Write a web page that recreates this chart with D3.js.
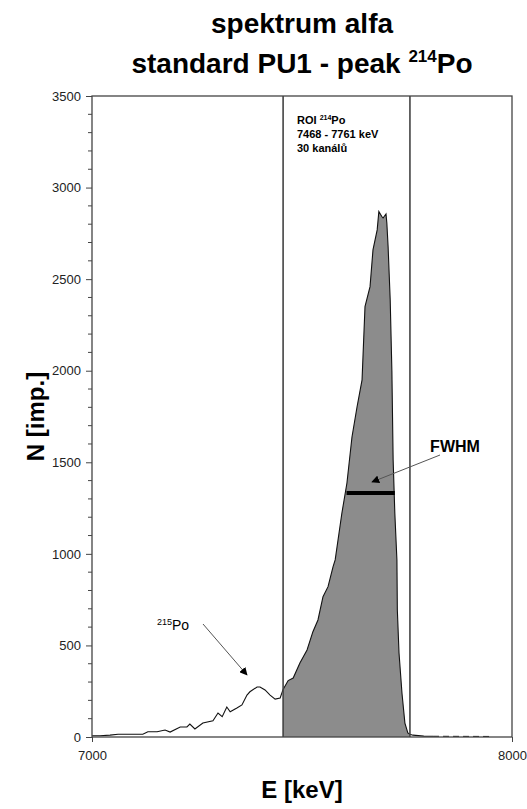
<!DOCTYPE html>
<html>
<head>
<meta charset="utf-8">
<script src="https://cdn.jsdelivr.net/npm/d3@7"></script>
<style>
  body { margin: 0; background: #fff; }
  text { font-family: Arial, "Liberation Sans", sans-serif; }
</style>
</head>
<body>
<div id="chart"></div>
<script>
// spectrum (keV, counts)
const energy = [7000, 7019, 7043, 7062, 7121, 7133, 7155, 7174, 7186, 7210, 7226, 7233, 7245, 7264,
  7288, 7300, 7310, 7321, 7329, 7345, 7357, 7369, 7376, 7393, 7400, 7412, 7424, 7436, 7448,
  7455, 7467, 7479, 7495, 7512, 7526, 7538, 7550, 7562, 7574, 7579, 7595, 7607, 7619, 7631,
  7643, 7650, 7662, 7669, 7679, 7683, 7690, 7693, 7700, 7702, 7705, 7710, 7714, 7717, 7721,
  7726, 7727, 7731, 7738, 7745, 7752, 7757, 7764, 7790, 7812];
const counts = [7, 7, 10, 15, 15, 29, 29, 38, 27, 55, 55, 71, 44, 76,
  89, 131, 111, 164, 138, 158, 175, 229, 247, 273, 273, 257, 229, 207, 213,
  260, 308, 322, 404, 475, 575, 639, 766, 821, 930, 967, 1223, 1387, 1638, 1802,
  1950, 2350, 2459, 2660, 2769, 2869, 2842, 2834, 2856, 2807, 2678, 2387, 2000, 1513, 1223,
  967, 694, 459, 240, 76, 22, 15, 10, 5, 4];
// dashed tail near zero
const tailEnergy = [7812, 7952];
const tailCounts = [4, 3];

const roi = [7455, 7757];
const fwhm = [7606, 7721];
const fwhmLevel = 1332;

const yTicks = [0, 500, 1000, 1500, 2000, 2500, 3000, 3500];
const xTicks = [7000, 8000];

const w = 527, h = 809;
const margin = { left: 92, right: 15, top: 96, bottom: 72 };

const svg = d3.select("#chart").append("svg")
  .attr("width", w).attr("height", h);

const x = d3.scaleLinear().domain([7000, 8000]).range([margin.left, w - margin.right]);
const y = d3.scaleLinear().domain([0, 3500]).range([h - margin.bottom, margin.top]);

const pts = energy.map((e, i) => [e, counts[i]]);
const roiPts = pts.filter(d => d[0] >= roi[0] && d[0] <= roi[1]);

// filled ROI
svg.append("path")
  .datum(roiPts)
  .attr("fill", "#8c8c8c")
  .attr("d", d3.area().x(d => x(d[0])).y0(y(0)).y1(d => y(d[1])));

// spectrum line
svg.append("path")
  .datum(pts)
  .attr("fill", "none")
  .attr("stroke", "#111")
  .attr("stroke-width", 1.1)
  .attr("d", d3.line().x(d => x(d[0])).y(d => y(d[1])));

svg.append("path")
  .datum(tailEnergy.map((e, i) => [e, tailCounts[i]]))
  .attr("fill", "none")
  .attr("stroke", "#111")
  .attr("stroke-dasharray", "6,4")
  .attr("d", d3.line().x(d => x(d[0])).y(d => y(d[1])));

// ROI borders
svg.selectAll(".roi").data(roi).join("line")
  .attr("x1", d => x(d)).attr("x2", d => x(d))
  .attr("y1", y(3500)).attr("y2", y(0))
  .attr("stroke", "#444").attr("stroke-width", 1.6);

// frame
svg.append("rect")
  .attr("x", x(7000)).attr("y", y(3500))
  .attr("width", x(8000) - x(7000)).attr("height", y(0) - y(3500))
  .attr("fill", "none").attr("stroke", "#444").attr("stroke-width", 1.3);

// y axis
const yAxis = svg.append("g")
  .attr("transform", `translate(${x(7000)},0)`)
  .call(d3.axisLeft(y).tickValues(yTicks).tickSize(6).tickPadding(5).tickFormat(d3.format("d")));
yAxis.select(".domain").remove();
yAxis.selectAll("line").attr("stroke", "#444");
yAxis.selectAll("text").attr("font-size", 13).attr("fill", "#222").attr("font-family", "Arial, 'Liberation Sans'");

const minor = d3.range(0, 3501, 100).filter(d => d % 500 !== 0);
svg.append("g").selectAll("line").data(minor).join("line")
  .attr("x1", x(7000) - 4).attr("x2", x(7000))
  .attr("y1", d => y(d)).attr("y2", d => y(d))
  .attr("stroke", "#444");

// x axis
const xAxis = svg.append("g")
  .attr("transform", `translate(0,${y(0)})`)
  .call(d3.axisBottom(x).tickValues(xTicks).tickSize(5).tickPadding(9).tickFormat(d3.format("d")));
xAxis.select(".domain").remove();
xAxis.selectAll("line").attr("stroke", "#444");
xAxis.selectAll("text").attr("font-size", 13).attr("fill", "#222").attr("font-family", "Arial, 'Liberation Sans'");

// FWHM bar
svg.append("line")
  .attr("x1", x(fwhm[0])).attr("x2", x(fwhm[1]))
  .attr("y1", y(fwhmLevel)).attr("y2", y(fwhmLevel))
  .attr("stroke", "#000").attr("stroke-width", 4);

// arrows
svg.append("defs").append("marker")
  .attr("id", "arr").attr("viewBox", "0 0 10 10")
  .attr("refX", 9).attr("refY", 5)
  .attr("markerWidth", 8).attr("markerHeight", 8)
  .attr("markerUnits", "userSpaceOnUse")
  .attr("orient", "auto")
  .append("path").attr("d", "M0,0L10,5L0,10z").attr("fill", "#000");

svg.append("line")
  .attr("x1", 440).attr("y1", 455).attr("x2", 372).attr("y2", 482)
  .attr("stroke", "#555").attr("marker-end", "url(#arr)");
svg.append("line")
  .attr("x1", 203).attr("y1", 624).attr("x2", 247).attr("y2", 675)
  .attr("stroke", "#555").attr("marker-end", "url(#arr)");

svg.append("text").attr("x", 455).attr("y", 452)
  .attr("text-anchor", "middle").attr("font-weight", "bold").attr("font-size", 16)
  .text("FWHM");

const po215 = svg.append("text").attr("x", 157).attr("y", 630).attr("font-size", 14);
po215.append("tspan").attr("font-size", 9).attr("dy", -5).text("215");
po215.append("tspan").attr("dy", 5).text("Po");

// ROI label
const roiG = svg.append("g").attr("font-size", 11).attr("font-weight", "bold");
const r1 = roiG.append("text").attr("x", 297).attr("y", 124);
r1.append("tspan").text("ROI ");
r1.append("tspan").attr("font-size", 7).attr("dy", -4).text("214");
r1.append("tspan").attr("dy", 4).text("Po");
roiG.append("text").attr("x", 297).attr("y", 138).text("7468 - 7761 keV");
roiG.append("text").attr("x", 297).attr("y", 152).text("30 kanálů");

// title
const cx = (x(7000) + x(8000)) / 2;
svg.append("text").attr("x", cx).attr("y", 33)
  .attr("text-anchor", "middle").attr("font-weight", "bold").attr("font-size", 28)
  .text("spektrum alfa");
const t2 = svg.append("text").attr("x", cx).attr("y", 73)
  .attr("text-anchor", "middle").attr("font-weight", "bold").attr("font-size", 28);
t2.append("tspan").text("standard PU1 - peak ");
t2.append("tspan").attr("font-size", 17).attr("dy", -11).text("214");
t2.append("tspan").attr("dy", 11).text("Po");

// axis titles
svg.append("text")
  .attr("transform", `translate(44,${(y(0) + y(3500)) / 2}) rotate(-90)`)
  .attr("text-anchor", "middle").attr("font-weight", "bold").attr("font-size", 24)
  .text("N [imp.]");
svg.append("text").attr("x", cx).attr("y", 798)
  .attr("text-anchor", "middle").attr("font-weight", "bold").attr("font-size", 24)
  .text("E [keV]");
</script>
</body>
</html>
